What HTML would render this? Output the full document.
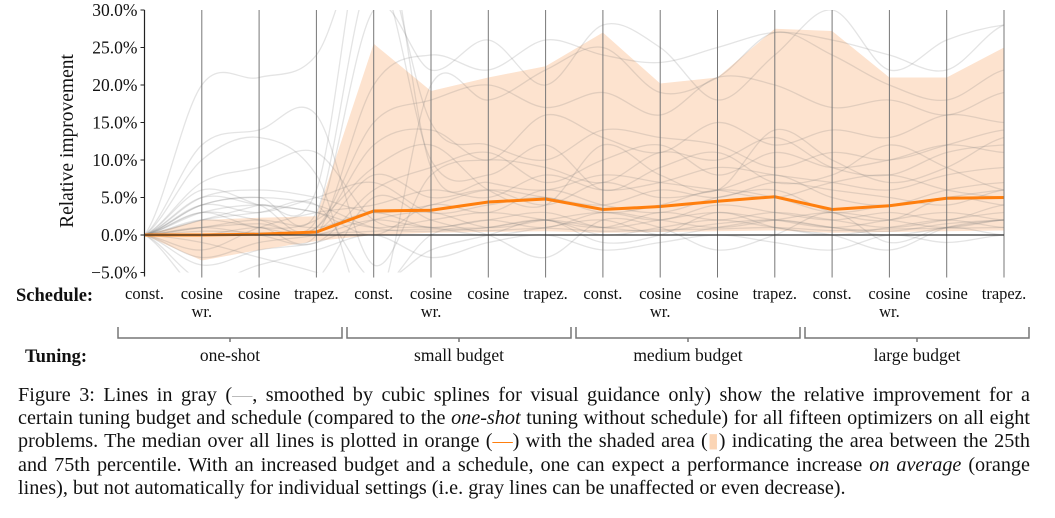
<!DOCTYPE html>
<html><head><meta charset="utf-8">
<style>
body{margin:0;background:#fff;width:1055px;height:518px;overflow:hidden;font-family:"Liberation Serif",serif;}
svg{position:absolute;left:0;top:0}
#cap{position:absolute;left:18px;top:384px;width:1012px;font-size:20.2px;line-height:23.2px;color:#111;}
#cap div{text-align:justify;text-align-last:justify;white-space:nowrap}
#cap div.last{text-align-last:left}
</style></head><body>
<svg id="chart" width="1055" height="380" font-family="Liberation Serif, serif"></svg>
<div id="cap">
<div>Figure 3: Lines in gray (<span style="color:#bbb">—</span>, smoothed by cubic splines for visual guidance only) show the relative improvement for a</div>
<div>certain tuning budget and schedule (compared to the <i>one-shot</i> tuning without schedule) for all fifteen optimizers on all eight</div>
<div>problems. The median over all lines is plotted in orange (<span style="color:#ff7f0e">—</span>) with the shaded area (<span style="color:#fbd5b5">▮</span>) indicating the area between the 25th</div>
<div>and 75th percentile. With an increased budget and a schedule, one can expect a performance increase <i>on average</i> (orange</div>
<div class="last">lines), but not automatically for individual settings (i.e. gray lines can be unaffected or even decrease).</div>
</div>
<script>
const schedules=["const.","cosine|wr.","cosine","trapez."];
const groups=["one-shot","small budget","medium budget","large budget"];
const yTicks=[-5,0,5,10,15,20,25,30];
const median=[0,0,0.1,0.4,3.2,3.3,4.4,4.8,3.4,3.8,4.5,5.1,3.4,3.9,4.9,5.0];
const q75=[0,2,2.3,2.5,25.5,19.2,21,22.5,27,20.2,21,27.5,27.2,21,21,25];
const q25=[0,-3.4,-2,-0.8,0,0.3,0.4,0.5,0.3,0.4,0.5,0.6,0.3,0.4,0.5,0.6];
const gray=[
[0,4,5,3,35,10,8,12,6,9,11,7,8,12,9,6],
[0,2,1,0.5,8,5,6,4,7,5,6,8,5,4,6,7],
[0,5,6,5,3,4,6,5,4,6,5,7,6,5,4,6],
[0,-4,-2,-1,2,3,1,2,3,2,4,3,2,3,2,4],
[0,1,1.5,1,12,14,10,16,13,11,15,12,14,13,16,15],
[0,10,13,8,-10,20,18,22,25,19,21,27,24,20,18,22],
[0,3,4,3,1,2,3,2,1,3,2,3,2,1,2,3],
[0,-8,-10,-6,5,2,0,-3,2,1,-2,0,3,-1,1,0],
[0,0.5,0.3,0.2,0.5,0.8,0.6,0.9,0.5,0.7,0.8,1,0.6,0.8,0.9,1],
[0,6,4,2,30,22,26,20,28,25,18,24,30,22,26,28],
[0,20,21,24,40,15,12,10,14,13,12,9,11,10,12,14],
[0,-2,1,3,4,6,5,8,6,7,9,8,7,6,8,9],
[0,2,3,4,-6,-2,0,2,-1,0,3,1,0,-2,1,2],
[0,1,0,-1,6,9,11,7,10,12,8,11,9,10,12,11],
[0,4,3,5,7,3,4,5,3,4,6,5,3,4,5,6],
[0,-1,-3,-5,-8,0,1,2,0,1,2,1,0,1,2,1],
[0,3,2,1,15,18,20,17,19,16,21,20,17,18,16,19],
[0,7,9,11,2,1,0,1,2,0,1,2,1,0,1,2],
[0,1,2,1,3,1,2,1,3,2,1,2,3,2,1,2],
[0,-6,-4,-2,0,-3,-1,0,-2,-1,0,-1,-2,0,-1,0],
[0,12,14,16,-4,8,10,9,7,11,10,13,9,8,11,12],
[0,2,4,6,45,9,7,6,8,7,6,5,7,8,6,5],
[0,0,1,0,20,24,22,26,24,23,25,27,26,24,22,28],
[0,3,1,2,9,12,6,4,12,8,6,14,10,7,9,13],
[0,4,5,4,1,0.5,1,2,1,0.5,1.5,2,1,0.5,1.5,2],
[0,-3,-1,0,2,1,2,3,1,2,3,2,1,2,3,2],
[0,5,4,3,0,4,3,6,4,3,5,6,3,2,5,4]
];
const svg=document.getElementById('chart');
const NS="http://www.w3.org/2000/svg";
const X0=144.5,DX=57.3,Y0=235,PY=7.5;
const x=i=>X0+i*DX, y=v=>Y0-v*PY;
function el(t,a,p){const e=document.createElementNS(NS,t);for(const k in a)e.setAttribute(k,a[k]);(p||svg).appendChild(e);return e;}
const defs=el('defs',{});const cp=el('clipPath',{id:'cp'},defs);el('rect',{x:X0,y:y(30),width:x(15)-X0,height:y(-5)-y(30)},cp);
const plot=el('g',{'clip-path':'url(#cp)'});

let pts=q75.map((v,i)=>x(i)+','+y(v)).concat(q25.map((v,i)=>x(i)+','+y(v)).reverse());
const band=el('polygon',{points:pts.join(' '),fill:'#fde3cf'},plot);

function spline(a){let d='M'+x(0)+','+y(a[0]);for(let i=0;i<a.length-1;i++){const p0=a[Math.max(0,i-1)],p1=a[i],p2=a[i+1],p3=a[Math.min(a.length-1,i+2)];d+=' C'+(x(i)+DX/3)+','+y(p1+(p2-p0)/6)+' '+(x(i+1)-DX/3)+','+y(p2-(p3-p1)/6)+' '+x(i+1)+','+y(p2);}return d;}
gray.forEach(a=>{const p=el('path',{d:spline(a),fill:'none',stroke:'#777','stroke-opacity':0.2,'stroke-width':1.3},plot);
});
for(let i=0;i<16;i++){const l=el('line',{x1:x(i),x2:x(i),y1:y(30),y2:y(-5)+(i?5:4),stroke:i?'#777':'#222','stroke-width':i?1:1.2});
}
el('line',{x1:X0,x2:x(15),y1:y(0),y2:y(0),stroke:'#333','stroke-width':1.2});
const med=el('polyline',{points:median.map((v,i)=>x(i)+','+y(v)).join(' '),fill:'none',stroke:'#ff7f0e','stroke-width':3},plot);

yTicks.forEach(t=>{el('line',{x1:X0-4,x2:X0,y1:y(t),y2:y(t),stroke:'#222'});
const tx=el('text',{x:X0-7,y:y(t)+6,'text-anchor':'end','font-size':17.5,fill:'#111'});tx.textContent=(t<0?'\u22125.0':t.toFixed(1))+'%';
});
const yt=el('text',{transform:'translate(73,141) rotate(-90)','text-anchor':'middle','font-size':19.5,fill:'#111'});yt.textContent='Relative improvement';

const s1=el('text',{x:16,y:301,'font-size':18.5,'font-weight':'bold',fill:'#111'});s1.textContent='Schedule:';

for(let i=0;i<16;i++){const parts=schedules[i%4].split('|');parts.forEach((p,j)=>{const t=el('text',{x:x(i),y:299+j*18,'text-anchor':'middle','font-size':16.5,fill:'#111'});t.textContent=p;
});}
const tl=el('text',{x:25,y:362,'font-size':18.5,'font-weight':'bold',fill:'#111'});tl.textContent='Tuning:';

groups.forEach((g,k)=>{const a=118+k*229,b=a+224,m=(a+b)/2;
const br=el('path',{d:`M${a},327 V338 H${b} V327 M${m},338 V342`,fill:'none',stroke:'#777','stroke-width':1.5});

const t=el('text',{x:m,y:361,'text-anchor':'middle','font-size':17.5,fill:'#111'});t.textContent=g;
});
</script>
</body></html>
